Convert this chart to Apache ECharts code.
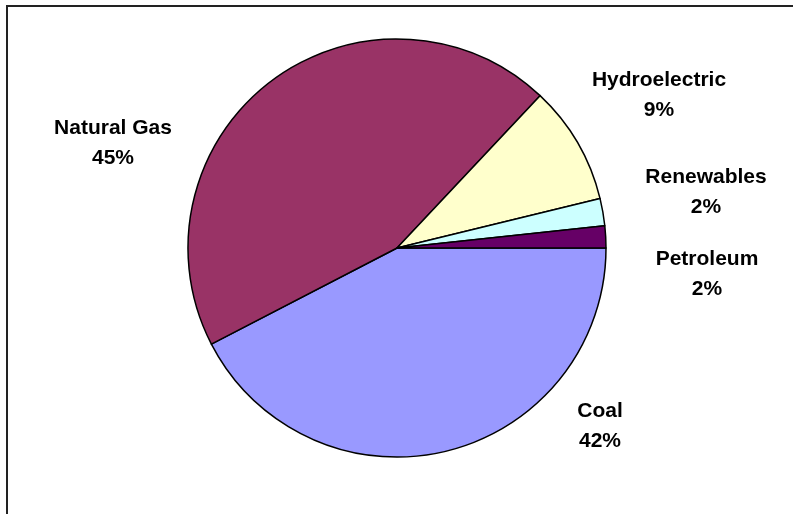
<!DOCTYPE html>
<html>
<head>
<meta charset="utf-8">
<script src="https://cdn.jsdelivr.net/npm/echarts@6/dist/echarts.min.js"></script>
<style>
html,body{margin:0;padding:0;background:#fff;}
#chart{width:793px;height:514px;}
</style>
</head>
<body>
<div id="chart"></div>
<script>
var categories = ['Coal', 'Natural Gas', 'Hydroelectric', 'Renewables', 'Petroleum'];
var values = [42.4, 44.6, 9.2, 2.1, 1.7];
var colors = ['#9999FF', '#993366', '#FFFFCC', '#CCFFFF', '#660066'];
var labelPositions = [[600, 426], [113, 143], [659, 95], [706, 192], [707, 274]];

var chart = echarts.init(document.getElementById('chart'));
chart.setOption({
  animation: false,
  backgroundColor: '#ffffff',
  graphic: [{
    type: 'rect',
    shape: { x: 7, y: 6, width: 900, height: 600 },
    style: { fill: 'none', stroke: '#222', lineWidth: 2 },
    silent: true
  }],
  series: [{
    type: 'pie',
    center: [397, 248],
    radius: 209,
    startAngle: 0,
    clockwise: true,
    percentPrecision: 0,
    data: categories.map(function (c, i) {
      return { name: c, value: values[i], itemStyle: { color: colors[i] } };
    }),
    itemStyle: { borderColor: '#000', borderWidth: 1.5 },
    label: {
      show: true,
      formatter: '{b}\n{d}%',
      fontFamily: 'Liberation Sans, Arial, sans-serif',
      fontWeight: 'bold',
      fontSize: 21,
      lineHeight: 30,
      color: '#000',
      align: 'center'
    },
    labelLine: { show: false },
    labelLayout: function (params) {
      var p = labelPositions[params.dataIndex];
      return { x: p[0], y: p[1], align: 'center', verticalAlign: 'middle' };
    }
  }]
});
</script>
</body>
</html>
